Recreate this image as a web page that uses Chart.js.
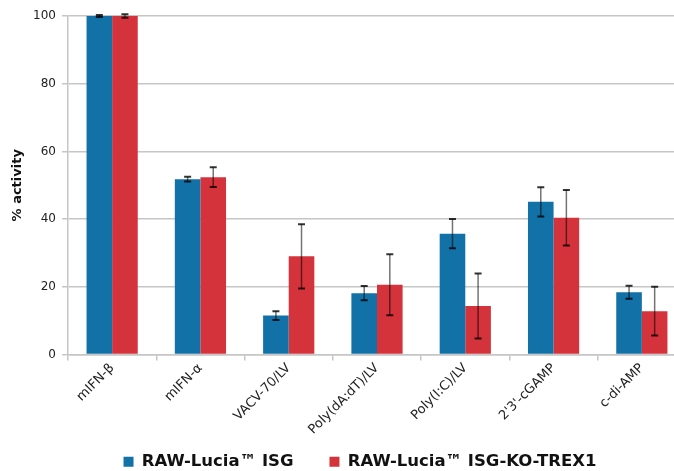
<!DOCTYPE html>
<html>
<head>
<meta charset="utf-8">
<script src="https://cdn.jsdelivr.net/npm/chart.js"></script>
<style>
    html, body { margin: 0; padding: 0; background: #fff; overflow: hidden; }
    #wrap { width: 674px; height: 471px; overflow: hidden; }
</style>
</head>
<body>
<div id="wrap"><canvas id="activityChart" width="690" height="507"></canvas></div>
<script>
// Datos
const categories = ['mIFN-β', 'mIFN-α', 'VACV-70/LV', 'Poly(dA:dT)/LV', 'Poly(I:C)/LV', "2'3'-cGAMP", 'c-di-AMP'];
const isgValues = [100, 51.8, 11.5, 18.1, 35.7, 45.1, 18.4];
const isgErrors = [0.3, 0.7, 1.3, 2.1, 4.3, 4.3, 1.9];
const trexValues = [100, 52.4, 29.0, 20.6, 14.3, 40.4, 12.8];
const trexErrors = [0.5, 2.9, 9.5, 9.0, 9.6, 8.2, 7.2];
const yTicks = [0, 20, 40, 60, 80, 100];

const gridColor = '#c6c6c6';
const axisFont = 'DejaVu Sans';

// Barras de error
const errorBars = {
    id: 'errorBars',
    afterDatasetsDraw(chart) {
        const ctx = chart.ctx;
        const yScale = chart.scales.y;
        ctx.save();
        chart.data.datasets.forEach((ds, i) => {
            const meta = chart.getDatasetMeta(i);
            meta.data.forEach((bar, j) => {
                const err = ds.errors[j];
                const top = yScale.getPixelForValue(ds.data[j] + err);
                const bottom = yScale.getPixelForValue(ds.data[j] - err);
                ctx.strokeStyle = 'rgba(0,0,0,0.55)';
                ctx.lineWidth = 1.5;
                ctx.beginPath();
                ctx.moveTo(bar.x, top);
                ctx.lineTo(bar.x, bottom);
                ctx.stroke();
                ctx.strokeStyle = 'rgba(0,0,0,0.8)';
                ctx.lineWidth = 2;
                ctx.beginPath();
                ctx.moveTo(bar.x - 3.5, top);
                ctx.lineTo(bar.x + 3.5, top);
                ctx.moveTo(bar.x - 3.5, bottom);
                ctx.lineTo(bar.x + 3.5, bottom);
                ctx.stroke();
            });
        });
        ctx.restore();
    }
};

// La leyenda va un poco a la izquierda y más arriba
const legendShift = {
    id: 'legendShift',
    afterLayout(chart) {
        const legend = chart.legend;
        legend.left -= 17;
        legend.right -= 17;
        legend.top -= 27;
        legend.bottom -= 27;
    }
};

const ctx = document.getElementById('activityChart').getContext('2d');
const activityChart = new Chart(ctx, {
    type: 'bar',
    data: {
        labels: categories,
        datasets: [
            {
                label: 'RAW-Lucia™ ISG',
                data: isgValues,
                errors: isgErrors,
                backgroundColor: '#1271a6',
                borderWidth: 0
            },
            {
                label: 'RAW-Lucia™ ISG-KO-TREX1',
                data: trexValues,
                errors: trexErrors,
                backgroundColor: '#d4333b',
                borderWidth: 0
            }
        ]
    },
    options: {
        responsive: false,
        animation: false,
        categoryPercentage: 0.58,
        barPercentage: 1.0,
        layout: { padding: { top: 16, right: 4, left: 0, bottom: 0 } },
        scales: {
            x: {
                grid: { drawOnChartArea: false, tickLength: 6, color: gridColor, lineWidth: 1.5 },
                border: { color: gridColor, width: 1.5 },
                ticks: {
                    maxRotation: 45,
                    minRotation: 45,
                    padding: 0,
                    color: '#222',
                    font: { family: axisFont, size: 13 }
                },
                afterFit(scale) { scale.height = 90; }
            },
            y: {
                min: 0,
                max: 100,
                afterBuildTicks(scale) {
                    scale.ticks = yTicks.map(v => ({ value: v }));
                },
                grid: { color: gridColor, lineWidth: 1.5, tickLength: 6 },
                border: { color: gridColor, width: 1.5 },
                ticks: {
                    padding: 6,
                    color: '#222',
                    font: { family: axisFont, size: 12 }
                },
                title: {
                    display: true,
                    text: '% activity',
                    color: '#111',
                    padding: { top: 10, bottom: 0 },
                    font: { family: axisFont, size: 13, weight: 'bold' }
                },
                afterFit(scale) { scale.width = 68; }
            }
        },
        plugins: {
            legend: {
                position: 'bottom',
                fullSize: false,
                labels: {
                    boxWidth: 10,
                    boxHeight: 10,
                    padding: 36,
                    color: '#111',
                    font: { family: axisFont, size: 16.5, weight: 'bold' }
                }
            },
            tooltip: { enabled: false }
        }
    },
    plugins: [errorBars, legendShift]
});
</script>
</body>
</html>
